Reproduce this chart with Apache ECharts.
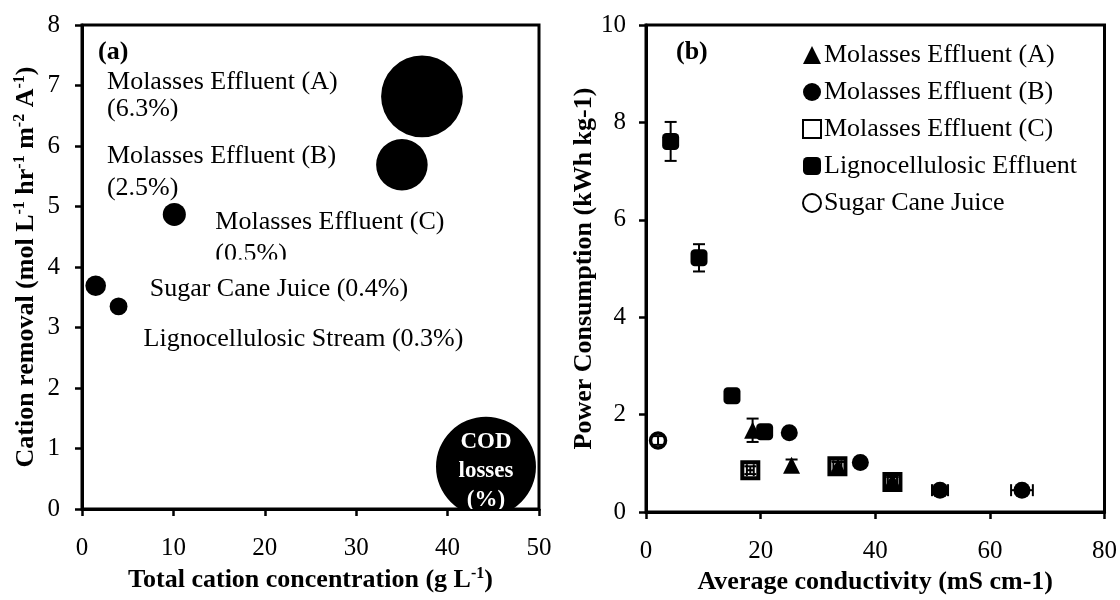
<!DOCTYPE html>
<html>
<head>
<meta charset="utf-8">
<script src="https://cdn.jsdelivr.net/npm/echarts@6/dist/echarts.min.js"></script>
<style>
  html, body { margin: 0; padding: 0; background: #fff; }
  #chart { width: 1120px; height: 600px; }
</style>
</head>
<body>
<div id="chart"></div>
<script>
// ---- Panel (a): cation removal vs total cation concentration; bubble area = COD losses (%)
const streamNames    = ['Molasses Effluent (A)', 'Molasses Effluent (B)', 'Molasses Effluent (C)', 'Sugar Cane Juice', 'Lignocellulosic Stream'];
const cationConc     = [37.2, 35.0, 10.1, 1.5, 4.0];     // g L-1
const cationRemoval  = [6.82, 5.69, 4.87, 3.69, 3.35];   // mol L-1 hr-1 m-2 A-1
const codLosses      = [6.3, 2.5, 0.5, 0.4, 0.3];        // %
const keyBubblePos   = [44.2, 0.70];                     // size key bubble
const keyBubbleSize  = [9.4];

// ---- Panel (b): power consumption vs average conductivity
const legendNames = ['Molasses Effluent (A)', 'Molasses Effluent (B)', 'Molasses Effluent (C)', 'Lignocellulosic Effluent', 'Sugar Cane Juice'];
const condA  = [18.6, 25.4, 33.5, 43.0];
const powerA = [1.68, 0.96, 0.93, 0.64];
const yErrA  = [0.24, 0.12, 0.10, 0.08];
const xErrA  = [0, 0, 0, 0];

const condB  = [25.0, 37.4, 51.3, 65.6];
const powerB = [1.63, 1.02, 0.45, 0.45];
const yErrB  = [0.05, 0.05, 0.05, 0.05];
const xErrB  = [0, 0, 1.4, 1.9];

const condC  = [18.2, 33.4, 43.0];
const powerC = [0.86, 0.94, 0.62];
const yErrC  = [0.08, 0.10, 0.10];
const xErrC  = [0.6, 0.7, 0.8];

const condL  = [4.3, 9.25, 15.0, 20.7];
const powerL = [7.61, 5.22, 2.39, 1.65];
const yErrL  = [0.40, 0.28, 0.05, 0.08];
const xErrL  = [0, 0, 0, 0];

const condS  = [2.1];
const powerS = [1.47];
const yErrS  = [0.09];
const xErrS  = [0];

// ---- tick settings
const axisA = { xMin: 0, xMax: 50, xStep: 10, yMin: 0, yMax: 8, yStep: 1 };
const axisB = { xMin: 0, xMax: 80, xStep: 20, yMin: 0, yMax: 10, yStep: 2 };

// ---- styling / layout constants
const FONT = '"Liberation Serif", "Times New Roman", Times, serif';
const TXT = 26;             // annotation / legend / title size
const TICK = 25;            // tick label size
const BUBBLE_K = 16.3;      // bubble radius in px per sqrt(%)
// label anchor relative to bubble centre:
// [dx to text left, dy to text block centre, two lines?, line height, clip edge below centre (or null)]
const bubbleLabelLayout = [
  [-315, -1, true, 27, null],
  [-295, 7, true, 32, null],
  [41, 24, true, 32, 45],
  [54, 3, false, 30, null],
  [25, 33, false, 30, null]
];

const chart = echarts.init(document.getElementById('chart'));

function axisCommon(extra) {
  return Object.assign({
    axisLine: { show: true, onZero: false, lineStyle: { color: '#000', width: 3 } },
    axisTick: { show: true, inside: false, length: 7, lineStyle: { color: '#000', width: 2.5 } },
    axisLabel: { color: '#000', fontFamily: FONT, fontSize: TICK, margin: 27 },
    splitLine: { show: false },
    nameTextStyle: { color: '#000', fontFamily: FONT, fontSize: TXT, fontWeight: 'bold' }
  }, extra);
}

const supRich = {
  s: { fontFamily: FONT, fontSize: 16, fontWeight: 'bold', color: '#000', verticalAlign: 'top', lineHeight: 17 }
};

function errorSeries(name, xs, ys, xe, ye) {
  return {
    name: name + ' err',
    type: 'custom',
    xAxisIndex: 1, yAxisIndex: 1,
    z: 4,
    silent: true,
    data: xs.map((x, i) => [x, ys[i], xe[i], ye[i]]),
    encode: { x: 0, y: 1 },
    renderItem(params, api) {
      const x = api.value(0), y = api.value(1), dx = api.value(2), dy = api.value(3);
      const cap = 6;
      const st = { stroke: '#000', lineWidth: 2 };
      const kids = [];
      if (dy > 0) {
        const t = api.coord([x, y + dy]), b = api.coord([x, y - dy]);
        kids.push({ type: 'line', shape: { x1: t[0], y1: t[1], x2: b[0], y2: b[1] }, style: st });
        kids.push({ type: 'line', shape: { x1: t[0] - cap, y1: t[1], x2: t[0] + cap, y2: t[1] }, style: st });
        kids.push({ type: 'line', shape: { x1: b[0] - cap, y1: b[1], x2: b[0] + cap, y2: b[1] }, style: st });
      }
      if (dx > 0) {
        const l = api.coord([x - dx, y]), r = api.coord([x + dx, y]);
        kids.push({ type: 'line', shape: { x1: l[0], y1: l[1], x2: r[0], y2: r[1] }, style: st });
        kids.push({ type: 'line', shape: { x1: l[0], y1: l[1] - cap, x2: l[0], y2: l[1] + cap }, style: st });
        kids.push({ type: 'line', shape: { x1: r[0], y1: r[1] - cap, x2: r[0], y2: r[1] + cap }, style: st });
      }
      return { type: 'group', children: kids };
    }
  };
}

function pointSeries(name, xs, ys, symbol, size, itemStyle) {
  return {
    name: name,
    type: 'scatter',
    xAxisIndex: 1, yAxisIndex: 1,
    symbol: symbol,
    symbolSize: size,
    itemStyle: Object.assign({ opacity: 1 }, itemStyle),
    emphasis: { disabled: true },
    z: 3,
    data: xs.map((x, i) => [x, ys[i]])
  };
}

const option = {
  animation: false,
  backgroundColor: '#fff',
  grid: [
    { left: 82, top: 25, right: 581, bottom: 77.5, show: true, borderColor: '#000', borderWidth: 3, backgroundColor: 'transparent' },
    { left: 646, top: 25, right: 13, bottom: 80, show: true, borderColor: '#000', borderWidth: 3, backgroundColor: 'transparent' }
  ],
  xAxis: [
    axisCommon({
      gridIndex: 0, type: 'value', min: axisA.xMin, max: axisA.xMax, interval: axisA.xStep,
      name: 'Total cation concentration (g L{s|-1})', nameLocation: 'middle', nameGap: 53,
      nameTextStyle: { color: '#000', fontFamily: FONT, fontSize: TXT, fontWeight: 'bold', lineHeight: 29, rich: supRich }
    }),
    axisCommon({
      gridIndex: 1, type: 'value', min: axisB.xMin, max: axisB.xMax, interval: axisB.xStep,
      name: 'Average conductivity (mS cm-1)', nameLocation: 'middle', nameGap: 54
    })
  ],
  yAxis: [
    axisCommon({
      gridIndex: 0, type: 'value', min: axisA.yMin, max: axisA.yMax, interval: axisA.yStep,
      name: 'Cation removal (mol L{s|-1} hr{s|-1} m{s|-2} A{s|-1})', nameLocation: 'middle', nameGap: 41, nameRotate: 90,
      nameTextStyle: { color: '#000', fontFamily: FONT, fontSize: TXT, fontWeight: 'bold', lineHeight: 29, rich: supRich },
      axisLabel: { color: '#000', fontFamily: FONT, fontSize: TICK, margin: 22 }
    }),
    axisCommon({
      gridIndex: 1, type: 'value', min: axisB.yMin, max: axisB.yMax, interval: axisB.yStep,
      name: 'Power Consumption (kWh kg-1)', nameLocation: 'middle', nameGap: 32, nameRotate: 90,
      axisLabel: { color: '#000', fontFamily: FONT, fontSize: TICK, margin: 20 }
    })
  ],
  legend: {
    data: legendNames,
    orient: 'vertical',
    left: 797, top: 37,
    itemWidth: 18, itemHeight: 18,
    itemGap: 11,
    textStyle: { color: '#000', fontFamily: FONT, fontSize: TXT, padding: [0, 0, 0, -2] },
    selectedMode: false
  },
  graphic: [
    { type: 'text', left: 98, top: 39, style: { text: '(a)', fill: '#000', font: 'bold ' + TXT + 'px ' + FONT } },
    { type: 'text', left: 676, top: 39, style: { text: '(b)', fill: '#000', font: 'bold ' + TXT + 'px ' + FONT } }
  ],
  series: [
    // bubbles of panel (a) with their stream labels
    {
      name: 'streams',
      type: 'custom',
      xAxisIndex: 0, yAxisIndex: 0,
      clip: true,
      silent: true,
      data: streamNames.map((n, i) => [cationConc[i], cationRemoval[i], codLosses[i], i]),
      encode: { x: 0, y: 1 },
      renderItem(params, api) {
        const p = api.coord([api.value(0), api.value(1)]);
        const v = api.value(2);
        const i = api.value(3);
        const r = BUBBLE_K * Math.sqrt(v);
        const lay = bubbleLabelLayout[i];
        const text = lay[2] ? streamNames[i] + '\n(' + v + '%)' : streamNames[i] + ' (' + v + '%)';
        const label = {
          type: 'text',
          x: p[0] + lay[0], y: p[1] + lay[1],
          style: {
            text: text, fill: '#000', fontFamily: FONT, fontSize: TXT, lineHeight: lay[3],
            align: 'left', verticalAlign: 'middle', textAlign: 'left', textVerticalAlign: 'middle'
          }
        };
        if (lay[4] != null) {
          // label box cut off below its frame edge (local coordinates of the text)
          label.clipPath = { type: 'rect', shape: { x: -10, y: -100, width: 400, height: 100 + lay[4] - lay[1] } };
        }
        return {
          type: 'group',
          children: [
            { type: 'circle', shape: { cx: p[0], cy: p[1], r: r }, style: { fill: '#000' } },
            label
          ]
        };
      }
    },
    // size key bubble
    {
      name: 'key',
      type: 'custom',
      xAxisIndex: 0, yAxisIndex: 0,
      clip: true,
      silent: true,
      data: [[keyBubblePos[0], keyBubblePos[1], keyBubbleSize[0]]],
      encode: { x: 0, y: 1 },
      renderItem(params, api) {
        const p = api.coord([api.value(0), api.value(1)]);
        const r = BUBBLE_K * Math.sqrt(api.value(2));
        return {
          type: 'group',
          children: [
            { type: 'circle', shape: { cx: p[0], cy: p[1], r: r }, style: { fill: '#000' } },
            {
              type: 'text', x: p[0], y: p[1] + 4,
              style: {
                text: 'COD\nlosses\n(%)', fill: '#fff', fontFamily: FONT, fontSize: 23, fontWeight: 'bold', lineHeight: 29,
                align: 'center', verticalAlign: 'middle', textAlign: 'center', textVerticalAlign: 'middle'
              }
            }
          ]
        };
      }
    },
    // panel (b) points
    pointSeries(legendNames[2], condC, powerC, 'rect', 16, { color: 'rgba(255,255,255,0)', borderColor: '#000', borderWidth: 4 }),
    pointSeries(legendNames[0], condA, powerA, 'triangle', 17, { color: '#000' }),
    pointSeries(legendNames[1], condB, powerB, 'circle', 17, { color: '#000' }),
    pointSeries(legendNames[3], condL, powerL, 'roundRect', 17, { color: '#000' }),
    pointSeries(legendNames[4], condS, powerS, 'circle', 15, { color: '#fff', borderColor: '#000', borderWidth: 3.5 }),
    errorSeries('A', condA, powerA, xErrA, yErrA),
    errorSeries('B', condB, powerB, xErrB, yErrB),
    errorSeries('C', condC, powerC, xErrC, yErrC),
    errorSeries('L', condL, powerL, xErrL, yErrL),
    errorSeries('S', condS, powerS, xErrS, yErrS)
  ]
};

chart.setOption(option);
</script>
</body>
</html>
